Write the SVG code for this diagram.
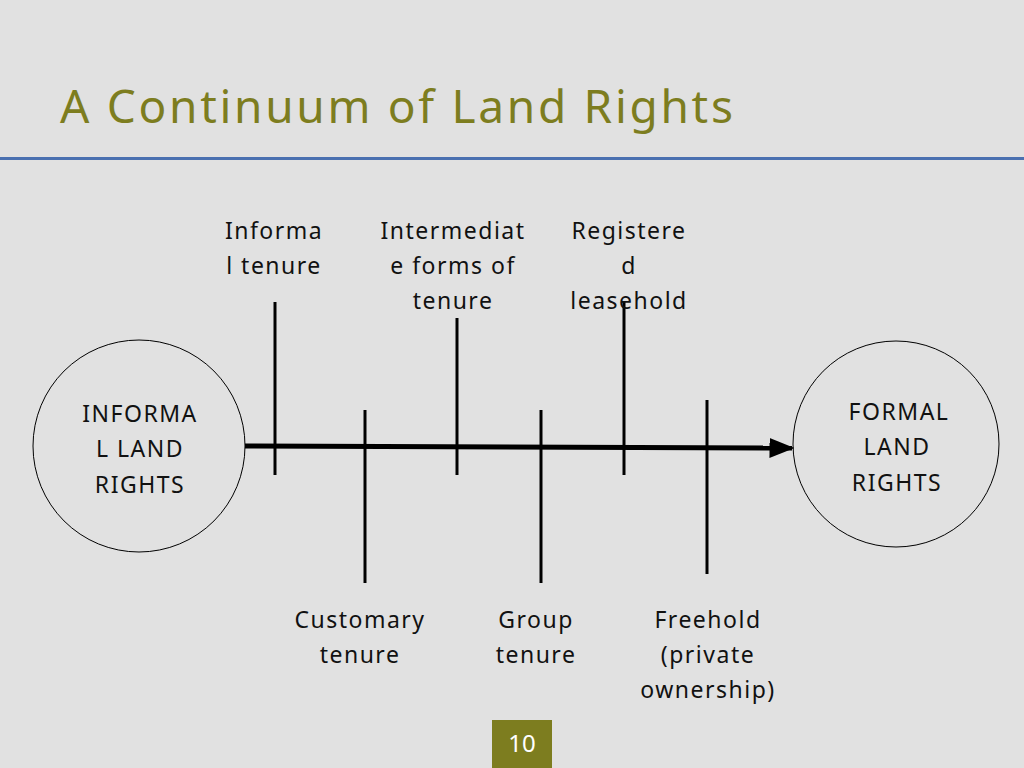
<svg xmlns="http://www.w3.org/2000/svg" width="1024" height="768" viewBox="0 0 1024 768">
<defs>
<style>
.t{font-family:"Noto Sans","Open Sans",sans-serif;font-size:23px;letter-spacing:1.5px;fill:#111;text-anchor:middle}
.v{stroke:#000;stroke-width:3}
.c{fill:none;stroke:#000;stroke-width:1}
</style>
<marker id="ah" markerWidth="5" markerHeight="4" refX="4.5" refY="2" orient="auto"><path d="M0,0L5,2L0,4z" fill="#000"/></marker>
</defs>
<rect width="1024" height="768" fill="#e1e1e1"/>
<text x="60" y="123" style="font-family:'Noto Sans','Open Sans',sans-serif;font-size:46px;letter-spacing:2.7px;fill:#7d7d1f">A Continuum of Land Rights</text>
<rect x="0" y="157" width="1024" height="3" fill="#4a70b0"/>
<g id="left"><circle class="c" cx="139" cy="446" r="106"/>
<text class="t" x="140" y="422">INFORMA</text><text class="t" x="140" y="457">L LAND</text><text class="t" x="140" y="493">RIGHTS</text></g>
<g id="right"><circle class="c" cx="896" cy="444" r="103"/>
<text class="t" x="899" y="420">FORMAL</text><text class="t" x="897" y="455">LAND</text><text class="t" x="897" y="491">RIGHTS</text></g>
<g id="connectors">
<line x1="245" y1="446" x2="792" y2="448" stroke="#000" stroke-width="5" marker-end="url(#ah)"/>
<line class="v" x1="275" y1="302" x2="275" y2="475"/>
<line class="v" x1="365" y1="410" x2="365" y2="583"/>
<line class="v" x1="457" y1="318" x2="457" y2="475"/>
<line class="v" x1="541" y1="410" x2="541" y2="583"/>
<line class="v" x1="624" y1="302" x2="624" y2="475"/>
<line class="v" x1="707" y1="400" x2="707" y2="574"/>
</g>
<g id="l1"><text class="t" x="274" y="239">Informa</text><text class="t" x="274" y="274">l tenure</text></g>
<g id="l2"><text class="t" x="453" y="239">Intermediat</text><text class="t" x="453" y="274">e forms of</text><text class="t" x="453" y="309">tenure</text></g>
<g id="l3"><text class="t" x="629" y="239">Registere</text><text class="t" x="629" y="274">d</text><text class="t" x="629" y="309">leasehold</text></g>
<g id="l4"><text class="t" x="360" y="628">Customary</text><text class="t" x="360" y="663">tenure</text></g>
<g id="l5"><text class="t" x="536" y="628">Group</text><text class="t" x="536" y="663">tenure</text></g>
<g id="l6"><text class="t" x="708" y="628">Freehold</text><text class="t" x="708" y="663">(private</text><text class="t" x="708" y="698">ownership)</text></g>
<g id="page"><rect x="492" y="720" width="60" height="48" fill="#7d7d1f"/>
<text x="522" y="752" style="font-family:'Noto Sans','Open Sans',sans-serif;font-size:24px;fill:#fff;text-anchor:middle">10</text></g>
</svg>
